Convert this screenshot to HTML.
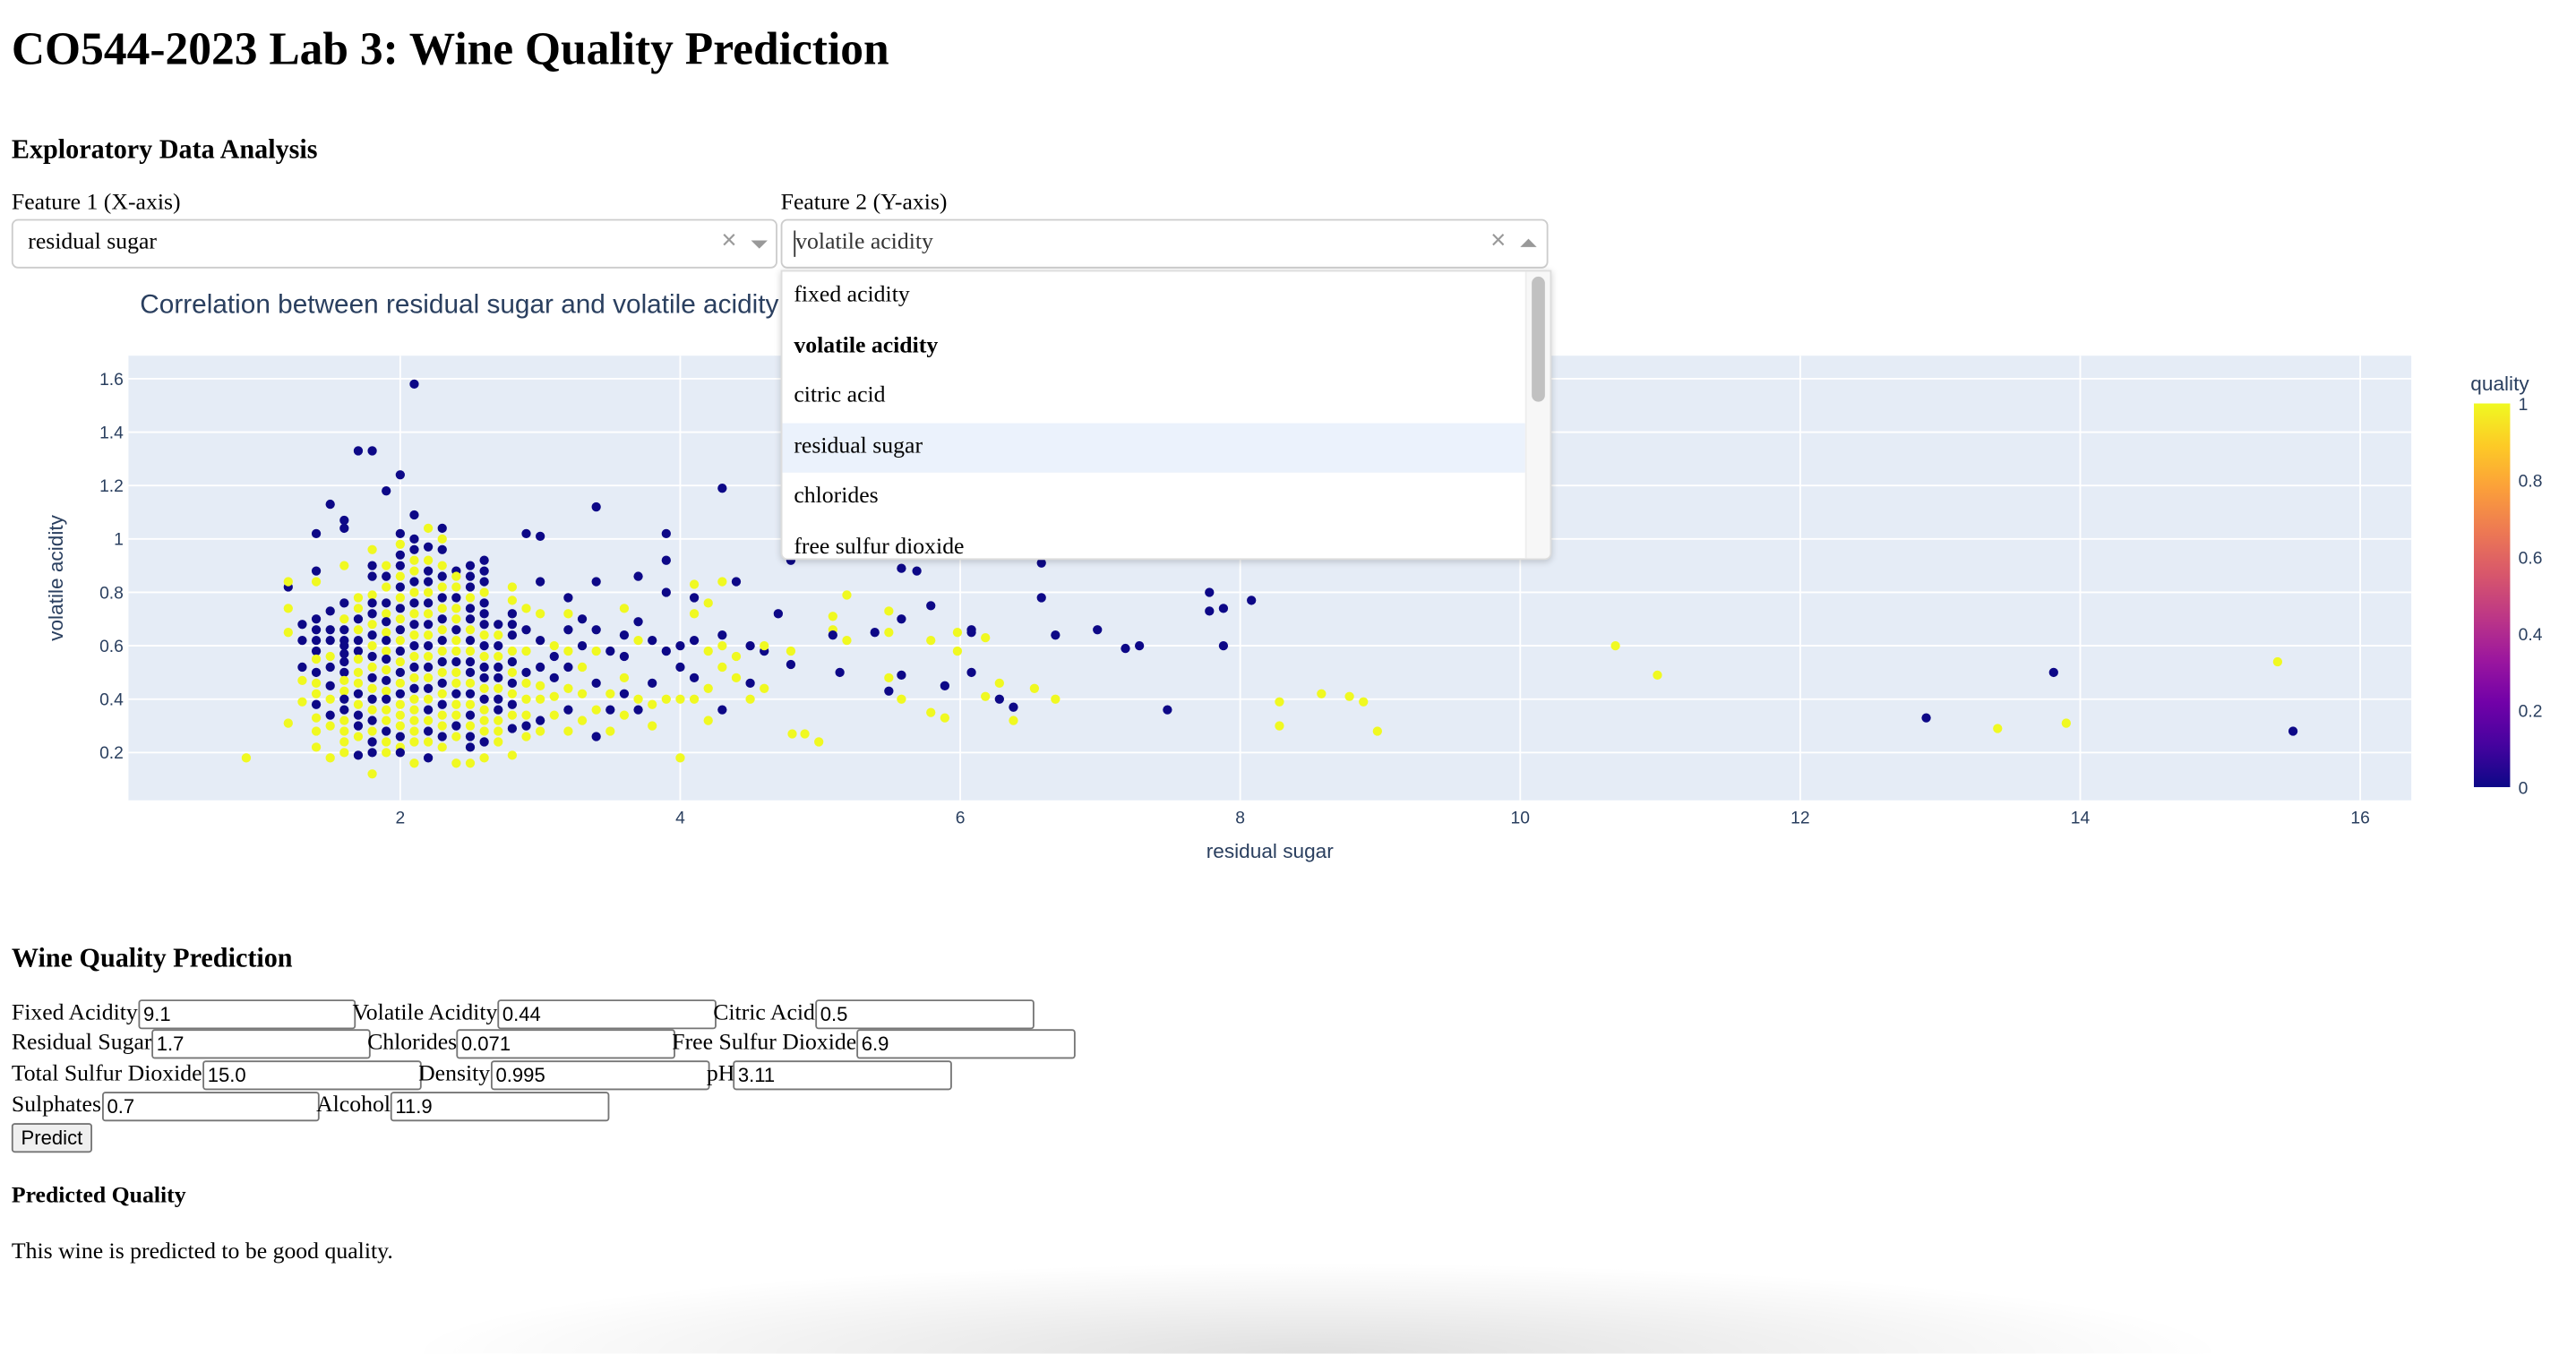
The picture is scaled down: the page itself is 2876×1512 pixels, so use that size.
<!DOCTYPE html>
<html><head><meta charset="utf-8"><title>CO544-2023 Lab 3</title>
<style>
html,body{margin:0;padding:0;background:#fff;overflow:hidden;width:2876px;height:1462px}
#page{position:absolute;left:0;top:0;width:1564px;height:795px;transform:scale(1.83887);transform-origin:0 0;font-family:"Liberation Serif",serif;color:#000}
.abs{position:absolute;white-space:nowrap}
.lbl{font-size:14px;line-height:18px}
.inp{position:absolute;height:16px;border:1px solid #767676;border-radius:2px;font:12px "Liberation Sans",sans-serif;padding:0 2px;line-height:16px;box-sizing:content-box;background:#fff}
.dd{position:absolute;top:133px;height:30px;border:1px solid #ccc;border-radius:4px;box-sizing:border-box;background:#fff;font-size:14px}
.menu{position:absolute;left:474px;top:164px;width:466px;height:174px;background:#fff;border:1px solid #ddd;box-shadow:0 1px 4px rgba(0,0,0,.18);overflow:hidden;z-index:5;border-radius:0 0 4px 4px}
.item{position:absolute;left:0;width:451px;height:30.5px;line-height:30.5px;padding-left:7px;box-sizing:border-box;font-size:14px}
</style></head>
<body>
<div id="page">
<div class="abs" style="left:7px;top:13px;font-size:28px;font-weight:bold;line-height:36px">CO544-2023 Lab 3: Wine Quality Prediction</div>
<div class="abs" style="left:7px;top:81px;font-size:16.4px;font-weight:bold;line-height:20px">Exploratory Data Analysis</div>
<div class="abs lbl" style="left:7px;top:115px">Feature 1 (X-axis)</div>
<div class="abs lbl" style="left:474px;top:115px">Feature 2 (Y-axis)</div>

<div class="dd" style="left:7px;width:465px">
  <span class="abs" style="left:9px;top:5px;line-height:18px">residual sugar</span>
  <span class="abs" style="left:430px;top:4px;color:#999;font:16px 'Liberation Sans',sans-serif">×</span>
  <span class="abs" style="left:448px;top:12px;width:0;height:0;border-left:5px solid transparent;border-right:5px solid transparent;border-top:5px solid #999"></span>
</div>
<div class="dd" style="left:474px;width:466px">
  <span class="abs" style="left:7px;top:6px;width:1px;height:16px;background:#333"></span>
  <span class="abs" style="left:8px;top:5px;line-height:18px;color:#333">volatile acidity</span>
  <span class="abs" style="left:430px;top:4px;color:#999;font:16px 'Liberation Sans',sans-serif">×</span>
  <span class="abs" style="left:448px;top:11px;width:0;height:0;border-left:5px solid transparent;border-right:5px solid transparent;border-bottom:5px solid #999"></span>
</div>
<div class="menu">
  <div class="item" style="top:0">fixed acidity</div>
  <div class="item" style="top:30.5px;font-weight:bold">volatile acidity</div>
  <div class="item" style="top:61px">citric acid</div>
  <div class="item" style="top:91.5px;background:#ebf2fc">residual sugar</div>
  <div class="item" style="top:122px">chlorides</div>
  <div class="item" style="top:152.5px">free sulfur dioxide</div>
  <div class="abs" style="left:451px;top:0;width:14px;height:174px;background:#f7f7f7;border-left:1px solid #eee">
    <div class="abs" style="left:3px;top:3px;width:8px;height:76px;background:#c1c1c1;border-radius:4px"></div>
  </div>
</div>

<svg id="chart" class="abs" style="left:0;top:0" width="1564" height="560"></svg>

<div class="abs" style="left:7px;top:572px;font-size:16.4px;font-weight:bold;line-height:20px">Wine Quality Prediction</div>

<span class="abs lbl" style="left:7px;top:607px">Fixed Acidity</span>
<input class="inp" style="left:84px;top:607px;width:126px" value="9.1">
<span class="abs lbl" style="left:214px;top:607px">Volatile Acidity</span>
<input class="inp" style="left:302px;top:607px;width:127px" value="0.44">
<span class="abs lbl" style="left:433px;top:607px">Citric Acid</span>
<input class="inp" style="left:495px;top:607px;width:127px" value="0.5">

<span class="abs lbl" style="left:7px;top:625px">Residual Sugar</span>
<input class="inp" style="left:92px;top:625px;width:127px" value="1.7">
<span class="abs lbl" style="left:223px;top:625px">Chlorides</span>
<input class="inp" style="left:277px;top:625px;width:127px" value="0.071">
<span class="abs lbl" style="left:408px;top:625px">Free Sulfur Dioxide</span>
<input class="inp" style="left:520px;top:625px;width:127px" value="6.9">

<span class="abs lbl" style="left:7px;top:644px">Total Sulfur Dioxide</span>
<input class="inp" style="left:123px;top:644px;width:127px" value="15.0">
<span class="abs lbl" style="left:254px;top:644px">Density</span>
<input class="inp" style="left:298px;top:644px;width:127px" value="0.995">
<span class="abs lbl" style="left:429px;top:644px">pH</span>
<input class="inp" style="left:445px;top:644px;width:127px" value="3.11">

<span class="abs lbl" style="left:7px;top:663px">Sulphates</span>
<input class="inp" style="left:62px;top:663px;width:126px" value="0.7">
<span class="abs lbl" style="left:192px;top:663px">Alcohol</span>
<input class="inp" style="left:237px;top:663px;width:127px" value="11.9">

<button class="abs" style="left:7px;top:682px;width:49px;height:18px;padding:0;font:12px 'Liberation Sans',sans-serif;border:1px solid #767676;border-radius:2px;background:#efefef">Predict</button>

<div class="abs" style="left:7px;top:718px;font-size:14px;font-weight:bold;line-height:18px">Predicted Quality</div>
<div class="abs lbl" style="left:7px;top:752px">This wine is predicted to be good quality.</div>
<div class="abs" style="left:200px;top:762px;width:1200px;height:60px;background:radial-gradient(ellipse at 50% 100%,rgba(0,0,0,.12),rgba(0,0,0,0) 65%)"></div>
</div>

<script>
// Dense columns: residual sugar value, volatile acidity values, quality values
const colSugar = [1.2,1.3,1.4,1.5,1.6,1.7,1.8,1.9,2.0,2.1,2.2,2.3,2.4,2.5,2.6,2.7,2.8,2.9,3.0,3.1,3.2,3.3,3.4,3.5,3.6,3.7,3.8,3.9,4.0,4.1,4.2,4.3,4.4,4.5,4.6];
const colAcidity = [
[0.82,0.84,0.74,0.65,0.31],
[0.68,0.62,0.52,0.47,0.39],
[1.02,0.88,0.84,0.70,0.66,0.62,0.58,0.55,0.50,0.46,0.42,0.38,0.33,0.28,0.22],
[1.13,0.73,0.66,0.62,0.56,0.52,0.45,0.40,0.34,0.30,0.18],
[1.07,1.04,0.90,0.76,0.70,0.66,0.62,0.60,0.57,0.54,0.50,0.47,0.43,0.40,0.36,0.32,0.28,0.24,0.20],
[1.33,0.78,0.74,0.70,0.66,0.62,0.58,0.55,0.50,0.46,0.42,0.38,0.34,0.30,0.26,0.19],
[1.33,0.96,0.90,0.86,0.79,0.76,0.72,0.68,0.64,0.60,0.56,0.52,0.48,0.44,0.40,0.36,0.32,0.28,0.24,0.20,0.12],
[1.18,0.90,0.86,0.82,0.76,0.72,0.69,0.65,0.62,0.58,0.55,0.51,0.47,0.43,0.40,0.36,0.32,0.28,0.24,0.20],
[1.24,1.02,0.98,0.94,0.90,0.86,0.82,0.78,0.74,0.70,0.66,0.62,0.58,0.54,0.50,0.46,0.42,0.38,0.34,0.30,0.26,0.22,0.20],
[1.58,1.09,1.00,0.96,0.92,0.88,0.84,0.80,0.76,0.72,0.68,0.64,0.60,0.56,0.52,0.48,0.44,0.40,0.36,0.32,0.28,0.24,0.16],
[1.04,0.97,0.92,0.88,0.84,0.80,0.76,0.72,0.68,0.64,0.60,0.56,0.52,0.48,0.44,0.40,0.36,0.32,0.28,0.24,0.18],
[1.04,1.00,0.96,0.90,0.86,0.82,0.78,0.74,0.70,0.66,0.62,0.58,0.54,0.50,0.46,0.42,0.38,0.34,0.30,0.26,0.22],
[0.88,0.86,0.82,0.78,0.74,0.70,0.66,0.62,0.58,0.54,0.50,0.46,0.42,0.38,0.34,0.30,0.26,0.16],
[0.90,0.86,0.82,0.78,0.74,0.70,0.66,0.62,0.58,0.54,0.50,0.46,0.42,0.38,0.34,0.30,0.26,0.22,0.16],
[0.92,0.88,0.84,0.80,0.76,0.72,0.68,0.64,0.60,0.56,0.52,0.48,0.44,0.40,0.36,0.32,0.28,0.24,0.18],
[0.68,0.64,0.60,0.56,0.52,0.48,0.44,0.40,0.36,0.32,0.28,0.24],
[0.82,0.77,0.72,0.68,0.64,0.58,0.54,0.50,0.46,0.42,0.38,0.34,0.29,0.19],
[1.02,0.74,0.66,0.58,0.50,0.46,0.40,0.34,0.30,0.26],
[1.01,0.84,0.72,0.62,0.52,0.45,0.40,0.32,0.28],
[0.60,0.56,0.48,0.41,0.34],
[0.78,0.72,0.66,0.58,0.52,0.44,0.36,0.28],
[0.70,0.60,0.52,0.42,0.32],
[1.12,0.84,0.66,0.58,0.46,0.36,0.26],
[0.58,0.42,0.36,0.28],
[0.74,0.64,0.56,0.48,0.42,0.34],
[0.86,0.69,0.62,0.40,0.36],
[0.62,0.46,0.38,0.30],
[1.02,0.92,0.80,0.58,0.40],
[0.60,0.52,0.40,0.18],
[0.83,0.78,0.72,0.62,0.48,0.40],
[0.76,0.58,0.44,0.32],
[1.19,0.84,0.64,0.60,0.52,0.36],
[0.84,0.56,0.48],
[0.60,0.46,0.40],
[0.58,0.60,0.44]
];
const colQuality = [
[0,1,1,1,1],
[0,0,0,1,1],
[0,0,1,0,0,0,0,1,0,1,1,0,1,1,1],
[0,0,0,0,1,0,0,1,0,1,1],
[0,0,1,0,1,0,0,0,0,0,0,1,1,0,0,1,1,1,1],
[0,1,1,0,1,0,0,1,1,1,0,1,0,0,1,0],
[0,1,0,0,1,0,0,1,0,1,0,1,0,1,0,1,0,1,0,0,1],
[0,1,0,1,0,1,0,1,0,1,0,1,0,1,0,1,1,0,1,1],
[0,0,1,0,0,1,0,1,0,1,0,1,0,1,0,1,0,1,1,1,0,1,0],
[0,0,0,0,1,1,0,1,0,1,0,1,0,1,0,1,0,1,1,1,1,1,1],
[1,0,1,0,0,1,0,1,0,1,0,1,0,1,0,1,0,1,0,1,0],
[0,1,0,1,0,1,0,1,0,1,0,1,0,1,0,1,0,1,1,0,1],
[0,1,1,0,1,1,0,1,1,0,1,1,0,1,1,0,1,1],
[0,0,0,1,0,0,1,0,1,0,0,1,0,1,0,1,0,0,1],
[0,0,0,1,0,0,0,1,0,1,0,0,1,0,1,1,1,0,1],
[0,1,0,1,0,0,1,0,0,1,1,1],
[1,1,0,0,0,1,0,1,0,1,0,1,0,1],
[0,1,0,1,0,1,1,1,0,1],
[0,0,1,0,0,1,1,0,1],
[1,0,0,1,1],
[0,1,0,1,0,1,0,1],
[0,0,1,1,1],
[0,0,0,1,0,1,0],
[0,1,0,1],
[1,0,0,1,0,1],
[0,0,1,1,0],
[0,0,1,1],
[0,0,0,0,1],
[0,0,1,1],
[1,0,1,0,0,1],
[1,1,1,1],
[0,1,0,1,1,0],
[0,1,1],
[0,0,1],
[0,1,1]
];
// Scattered points
const sugar = [0.9,4.79,5.58,5.69,6.58,5.19,5.49,5.79,5.09,5.58,5.09,5.09,5.19,5.39,5.49,5.79,5.98,6.08,6.08,6.18,6.58,6.68,6.98,7.18,7.28,7.78,7.78,7.88,7.88,8.08,4.79,4.79,5.98,5.14,5.49,5.58,6.08,5.89,5.49,5.58,6.28,6.18,6.28,6.38,6.53,6.68,7.48,5.79,5.89,6.38,4.89,4.99,8.28,8.28,8.58,8.78,8.88,8.98,10.68,10.98,12.9,13.41,13.81,13.9,15.41,15.52,4.7,4.8];
const acidity = [0.18,0.92,0.89,0.88,0.91,0.79,0.73,0.75,0.71,0.70,0.66,0.64,0.62,0.65,0.65,0.62,0.65,0.66,0.65,0.63,0.78,0.64,0.66,0.59,0.60,0.80,0.73,0.74,0.60,0.77,0.58,0.53,0.58,0.50,0.48,0.49,0.50,0.45,0.43,0.40,0.46,0.41,0.40,0.37,0.44,0.40,0.36,0.35,0.33,0.32,0.27,0.24,0.39,0.30,0.42,0.41,0.39,0.28,0.60,0.49,0.33,0.29,0.50,0.31,0.54,0.28,0.72,0.27];
const quality = [1,0,0,0,0,1,1,0,1,0,1,0,1,0,1,1,1,0,0,1,0,0,0,0,0,0,0,0,0,0,1,0,1,0,1,0,0,0,0,1,1,1,0,0,1,1,0,1,1,1,1,1,1,1,1,1,1,1,1,1,0,1,0,1,1,0,0,1];
const xTicks = [2,4,6,8,10,12,14,16];
const xTickLabels = ["2","4","6","8","10","12","14","16"];
const yTicks = [0.2,0.4,0.6,0.8,1,1.2,1.4,1.6];
const yTickLabels = ["0.2","0.4","0.6","0.8","1","1.2","1.4","1.6"];
const cbTicks = [0,0.2,0.4,0.6,0.8,1];
const cbTickLabels = ["0","0.2","0.4","0.6","0.8","1"];

const NS = "http://www.w3.org/2000/svg";
const svg = document.getElementById("chart");
const P = {l:78, r:1464, t:216, b:486};
function xs(v){ return 73 + 85*v; }
function ys(v){ return 457 - (v-0.2)*162.14; }
function mk(tag, attrs, parent){ const e=document.createElementNS(NS,tag); for(const k in attrs) e.setAttribute(k,attrs[k]); (parent||svg).appendChild(e); return e; }
const FONT = "'Liberation Sans', 'DejaVu Sans', sans-serif";

const title = mk("text",{x:85,y:190,"font-size":16.2,fill:"#2a3f5f","font-family":FONT});


title.textContent = "Correlation between residual sugar and volatile acidity";

const bg = mk("rect",{x:P.l,y:P.t,width:P.r-P.l,height:P.b-P.t,fill:"#e5ecf6"});



xTicks.forEach((t,i)=>{
  const g = mk("line",{x1:xs(t),x2:xs(t),y1:P.t,y2:P.b,stroke:"#fff","stroke-width":1});
  
  
  const lb = mk("text",{x:xs(t),y:500,"font-size":10.5,fill:"#2a3f5f","text-anchor":"middle","font-family":FONT});
  
  
  lb.textContent = xTickLabels[i];
});
yTicks.forEach((t,i)=>{
  const g = mk("line",{x1:P.l,x2:P.r,y1:ys(t),y2:ys(t),stroke:"#fff","stroke-width":1});
  
  
  const lb = mk("text",{x:75,y:ys(t)+3.7,"font-size":10.5,fill:"#2a3f5f","text-anchor":"end","font-family":FONT});
  
  
  lb.textContent = yTickLabels[i];
});

const clip = mk("clipPath",{id:"pc"});
mk("rect",{x:P.l,y:P.t,width:P.r-P.l,height:P.b-P.t},clip);
const pts = mk("g",{"clip-path":"url(#pc)"});


function col(q){ return q>=0.5 ? "#f0f921" : "#0d0887"; }
colSugar.forEach((s,ci)=>{
  colAcidity[ci].forEach((a,j)=>{
    const c = mk("circle",{cx:xs(s),cy:ys(a),r:2.8,fill:col(colQuality[ci][j])},pts);
    
    
  });
});
sugar.forEach((s,i)=>{
  const c = mk("circle",{cx:xs(s),cy:ys(acidity[i]),r:2.8,fill:col(quality[i])},pts);
  
  
});

const xt = mk("text",{x:771,y:521,"font-size":12.3,fill:"#2a3f5f","text-anchor":"middle","font-family":FONT});


xt.textContent = "residual sugar";
const yt = mk("text",{x:0,y:0,"font-size":12.3,fill:"#2a3f5f","text-anchor":"middle","font-family":FONT,transform:"translate(38,351) rotate(-90)"});


yt.textContent = "volatile acidity";

// colorbar
const defs = mk("defs",{});
const grad = mk("linearGradient",{id:"plasma",x1:0,y1:1,x2:0,y2:0},defs);
[["0","#0d0887"],["0.111","#46039f"],["0.222","#7201a8"],["0.333","#9c179e"],["0.444","#bd3786"],["0.556","#d8576b"],["0.667","#ed7953"],["0.778","#fb9f3a"],["0.889","#fdca26"],["1","#f0f921"]].forEach(s=>mk("stop",{offset:s[0],"stop-color":s[1]},grad));
const cbTop=245, cbBot=478;
function cbY(v){ return cbBot - v*(cbBot-cbTop); }
const cb = mk("rect",{x:1502,y:cbTop,width:22,height:cbBot-cbTop,fill:"url(#plasma)"});


cbTicks.forEach((t,i)=>{
  const lb = mk("text",{x:1529,y:cbY(t)+4,"font-size":10.5,fill:"#2a3f5f","font-family":FONT});
  
  
  lb.textContent = cbTickLabels[i];
});
const cbt = mk("text",{x:1500,y:237,"font-size":12.3,fill:"#2a3f5f","font-family":FONT});


cbt.textContent = "quality";
</script>
</body></html>
